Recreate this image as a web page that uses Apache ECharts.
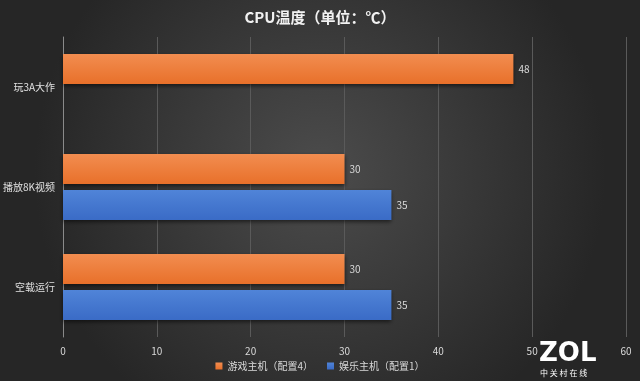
<!DOCTYPE html>
<html><head><meta charset="utf-8">
<script src="https://cdn.jsdelivr.net/npm/echarts@6/dist/echarts.min.js"></script>
<style>html,body{margin:0;padding:0;}#c{width:640px;height:381px;}</style>
</head><body><div id="c"></div>
<script>
var categories = ['玩3A大作', '播放8K视频', '空载运行'];
var seriesNames = ['游戏主机（配置4）', '娱乐主机（配置1）'];
var gameValues = [48, 30, 30];
var entValues = [null, 35, 35];
var xTicks = [0, 10, 20, 30, 40, 50, 60];

var font = '"Noto Sans CJK SC", "Noto Sans", sans-serif';
var chart = echarts.init(document.getElementById('c'));
function grad(c1, c2) {
  return new echarts.graphic.LinearGradient(0, 0, 0, 1, [{offset: 0, color: c1}, {offset: 1, color: c2}]);
}
chart.setOption({
  backgroundColor: {type: 'radial', x: 0.5, y: 0.45, r: 0.75, colorStops: [{offset: 0, color: '#4c4c4c'}, {offset: 1, color: '#262626'}]},
  title: {text: 'CPU温度（单位：℃）', left: 'center', top: 5, textStyle: {color: '#f2f2f2', fontSize: 15, fontWeight: 'bold', fontFamily: font}},
  legend: {bottom: 5, left: 'center', itemWidth: 7, itemHeight: 7, itemGap: 14, icon: 'rect',
    textStyle: {color: '#d9d9d9', fontSize: 10, fontFamily: font}, data: seriesNames},
  grid: {left: 62, right: 14, top: 37, bottom: 44},
  xAxis: {type: 'value', min: xTicks[0], max: xTicks[xTicks.length - 1], interval: 10,
    axisLine: {show: false}, axisTick: {show: false},
    axisLabel: {color: '#d9d9d9', fontSize: 10, fontFamily: font, margin: 9},
    splitLine: {lineStyle: {color: '#5a5a5a', width: 1}}},
  yAxis: {type: 'category', data: categories, inverse: true,
    axisLine: {show: true, lineStyle: {color: '#8a8a8a'}}, axisTick: {show: false},
    axisLabel: {color: '#e0e0e0', fontSize: 10, fontFamily: font, margin: 8}},
  series: [
    {name: seriesNames[0], type: 'bar', data: gameValues, barWidth: 30, barGap: '20%',
      itemStyle: {color: grad('#f28d50', '#e8702a'), shadowColor: 'rgba(0,0,0,0.55)', shadowBlur: 4, shadowOffsetY: 2},
      label: {show: true, position: 'right', color: '#d9d9d9', fontSize: 10, fontFamily: font, distance: 5}},
    {name: seriesNames[1], type: 'bar', data: entValues, barWidth: 30, barGap: '20%',
      itemStyle: {color: grad('#5084d8', '#3a6bc6'), shadowColor: 'rgba(0,0,0,0.55)', shadowBlur: 4, shadowOffsetY: 2},
      label: {show: true, position: 'right', color: '#d9d9d9', fontSize: 10, fontFamily: font, distance: 5}}
  ],
  graphic: [
    {type: 'text', left: 539, top: 341, style: {text: 'ZOL', fill: '#ffffff', font: 'bold 26px "DejaVu Sans", sans-serif'}},
    {type: 'text', left: 540, top: 369, style: {text: '中 关 村 在 线', fill: '#ffffff', font: '8px "Noto Sans CJK SC", sans-serif'}}
  ]
});
</script></body></html>
